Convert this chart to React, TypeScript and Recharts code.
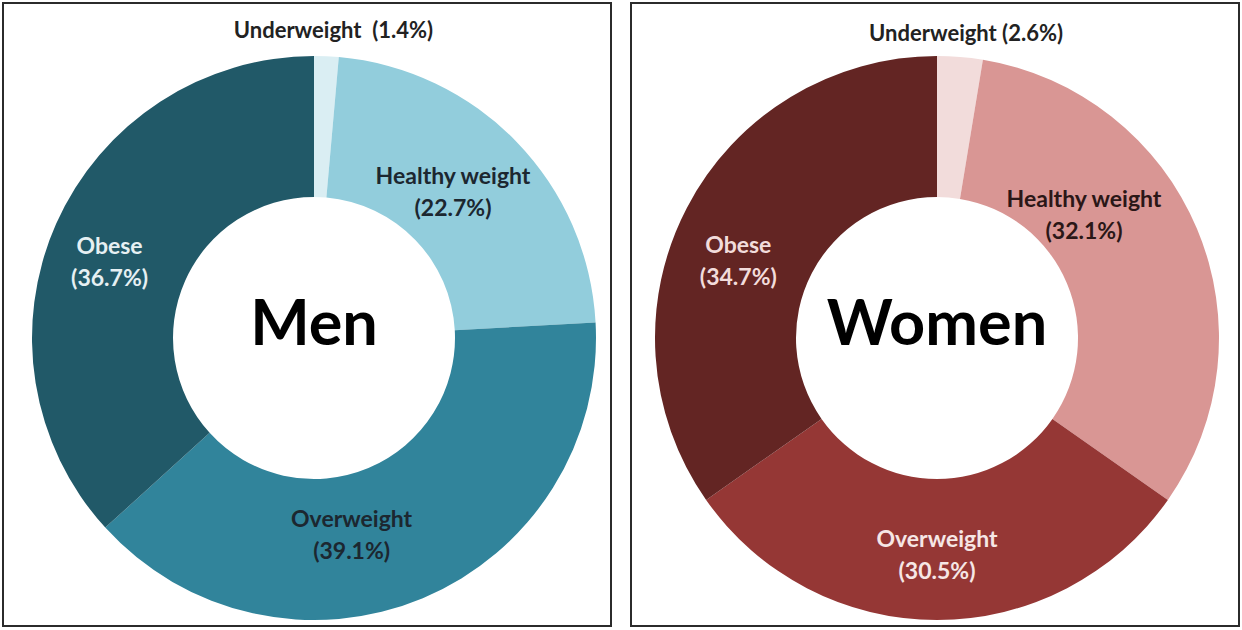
import { PieChart, Pie, Cell } from 'recharts';

// Distribución de peso por sexo (dos donas lado a lado)

const categories = ['Underweight', 'Healthy weight', 'Overweight', 'Obese'];
const menValues = [1.4, 22.7, 39.1, 36.7];
const womenValues = [2.6, 32.1, 30.5, 34.7];
const menLabels = ['Underweight  (1.4%)', '(22.7%)', '(39.1%)', '(36.7%)'];
const womenLabels = ['Underweight (2.6%)', '(32.1%)', '(30.5%)', '(34.7%)'];

const MEN_COLORS = ['#DAEEF3', '#92CDDC', '#31849B', '#215968'];
const WOMEN_COLORS = ['#F2DCDB', '#D99694', '#953735', '#632523'];
const MEN_TEXT = ['#222222', '#1c2730', '#1c2730', '#e6f0f3'];
const WOMEN_TEXT = ['#222222', '#2b1717', '#f6e6e5', '#f2dcdb'];

// ajustes de posición de etiquetas (como las coloca Excel)
const MEN_NUDGE = [[7, -3], [-13, 0], [-44, 1], [-11, 9]];
const WOMEN_NUDGE = [[6, 0], [-48, -42], [0, 4], [-11, 20]];

const FONT = 'Lato, "Open Sans", sans-serif';
const RADIAN = Math.PI / 180;

function makeLabel(title: string, pcts: string[], colors: string[], nudges: number[][]) {
  return (p: any) => {
    const { cx, cy, midAngle, innerRadius, outerRadius, index } = p;
    const [nx, ny] = nudges[index];
    if (index === 0) {
      const x = cx + outerRadius * Math.cos(-midAngle * RADIAN) + nx;
      const y = cy - outerRadius - 24 + ny;
      return (
        <g>
          <text x={x} y={y} textAnchor="middle" dominantBaseline="central"
            fill={colors[0]} fontFamily={FONT} fontWeight={700} fontSize={22}
            style={{ whiteSpace: 'pre' }}>
            {pcts[0]}
          </text>
          {/* título en el hueco de la dona */}
          <text x={cx} y={cy - 18} textAnchor="middle" dominantBaseline="central"
            fontFamily={FONT} fontWeight={700} fontSize={63} fill="#000">
            {title}
          </text>
        </g>
      );
    }
    const r = (innerRadius + outerRadius) / 2;
    const x = cx + r * Math.cos(-midAngle * RADIAN) + nx;
    const y = cy + r * Math.sin(-midAngle * RADIAN) + ny;
    return (
      <text textAnchor="middle" fill={colors[index]} fontFamily={FONT}
        fontWeight={700} fontSize={23}>
        <tspan x={x} y={y - 16} dominantBaseline="central">{categories[index]}</tspan>
        <tspan x={x} y={y + 16} dominantBaseline="central">{pcts[index]}</tspan>
      </text>
    );
  };
}

function Donut({ title, values, colors, textColors, pcts, nudges, cx, left }: {
  title: string; values: number[]; colors: string[]; textColors: string[];
  pcts: string[]; nudges: number[][]; cx: number; left: number;
}) {
  const data = categories.map((name, i) => ({ name, value: values[i] }));
  return (
    <div style={{
      position: 'absolute', left, top: 2, width: 606, height: 621,
      border: '2px solid #2b2b2b', background: '#fff',
    }}>
      <PieChart width={606} height={621} margin={{ top: 0, right: 0, bottom: 0, left: 0 }}>
        <Pie
          data={data}
          dataKey="value"
          nameKey="name"
          cx={cx}
          cy={334}
          innerRadius={141}
          outerRadius={282}
          startAngle={90}
          endAngle={-270}
          stroke="none"
          labelLine={false}
          label={makeLabel(title, pcts, textColors, nudges)}
          isAnimationActive={false}
        >
          {data.map((d, i) => <Cell key={d.name} fill={colors[i]} />)}
        </Pie>
      </PieChart>
    </div>
  );
}

export default function App() {
  return (
    <div style={{ position: 'relative', width: 1242, height: 630, background: '#fff' }}>
      <style>{'body{margin:0}'}</style>
      <Donut title="Men" values={menValues} colors={MEN_COLORS} textColors={MEN_TEXT}
        pcts={menLabels} nudges={MEN_NUDGE} cx={310} left={2} />
      <Donut title="Women" values={womenValues} colors={WOMEN_COLORS} textColors={WOMEN_TEXT}
        pcts={womenLabels} nudges={WOMEN_NUDGE} cx={305} left={630} />
    </div>
  );
}
